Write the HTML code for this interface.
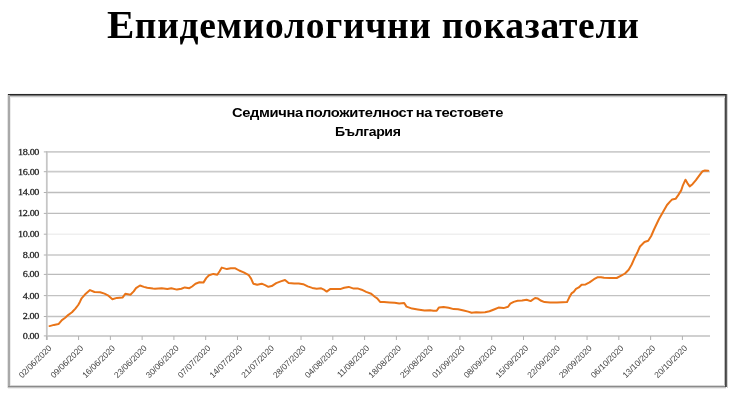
<!DOCTYPE html>
<html><head><meta charset="utf-8"><style>
html,body{margin:0;padding:0;background:#fff;}
body{width:740px;height:400px;overflow:hidden;position:relative;}
.title{position:absolute;left:107px;top:4.20px;font-family:"Liberation Serif","Noto Serif CJK SC",serif;font-weight:bold;font-size:37.5px;line-height:1;color:#000;white-space:nowrap;letter-spacing:0.7px;transform-origin:0 0;transform:scaleX(1.0000);}
.ct{position:absolute;font-family:"Liberation Sans","DejaVu Sans",sans-serif;font-weight:bold;color:#000;white-space:nowrap;line-height:1;transform-origin:0 0;letter-spacing:-0.35px;word-spacing:-1px;}
svg{position:absolute;left:0;top:0;}
</style></head><body>
<div class="title"><span style="font-size:41.0px;letter-spacing:0.5px">Е</span>пидемиологични показатели</div>
<div class="ct" style="top:106.0px;font-size:13.6px;left:232px;transform:scaleX(1.0828)">Седмич<span style="margin-left:0px">на</span> положителност на тестовете</div>
<div class="ct" style="top:124.6px;font-size:13.6px;left:335px;transform:scaleX(1.0340)">България</div>
<svg width="740" height="400" viewBox="0 0 740 400">
<g shape-rendering="crispEdges"><rect x="10" y="93" width="715" height="1" fill="#f4f4f4"/><rect x="10" y="95" width="715" height="1" fill="#777777"/><rect x="10" y="96" width="715" height="1" fill="#c8c8c8"/><rect x="10" y="97" width="715" height="1" fill="#f0f0f0"/><rect x="10" y="385" width="715" height="1" fill="#d8d8d8"/><rect x="8" y="387" width="718" height="1" fill="#c4c4c4"/><rect x="8" y="388" width="718" height="1" fill="#eeeeee"/><rect x="7" y="94" width="1" height="294" fill="#e4e4e4"/><rect x="10" y="98" width="1" height="287" fill="#ececec"/><rect x="724" y="98" width="1" height="287" fill="#bebebe"/><rect x="727" y="94" width="1" height="294" fill="#d2d2d2"/><rect x="8" y="94" width="2" height="293" fill="#a9a9a9"/><rect x="8" y="386" width="718" height="1" fill="#8a8a8a"/><rect x="725" y="94" width="1" height="293" fill="#464646"/><rect x="726" y="94" width="1" height="293" fill="#5e5e5e"/><rect x="8" y="94" width="718" height="1" fill="#262626"/></g><g><line x1="46.8" y1="316.50" x2="710" y2="316.50" stroke="#c2c2c2" stroke-width="1.4"/><line x1="46.8" y1="295.60" x2="710" y2="295.60" stroke="#c2c2c2" stroke-width="1.4"/><line x1="46.8" y1="274.40" x2="710" y2="274.40" stroke="#bbbbbb" stroke-width="1.4"/><line x1="46.8" y1="255.00" x2="710" y2="255.00" stroke="#c8c8c8" stroke-width="1.5"/><line x1="46.8" y1="234.20" x2="710" y2="234.20" stroke="#efefef" stroke-width="1.4"/><line x1="46.8" y1="213.40" x2="710" y2="213.40" stroke="#bdbdbd" stroke-width="1.4"/><line x1="46.8" y1="192.50" x2="710" y2="192.50" stroke="#bdbdbd" stroke-width="1.4"/><line x1="46.8" y1="171.70" x2="710" y2="171.70" stroke="#cbcbcb" stroke-width="1.7"/><line x1="46.8" y1="151.90" x2="710" y2="151.90" stroke="#cdcdcd" stroke-width="1.8"/></g>
<line stroke="#d0d0d0" stroke-width="2.0" x1="46.8" y1="335.9" x2="710" y2="335.9"/>
<line stroke="#c6c6c6" stroke-width="1.8" x1="46.8" y1="151.20000000000002" x2="46.8" y2="339.9"/>
<g stroke="#b0b0b0" stroke-width="1"><line x1="43.8" y1="335.90" x2="46.8" y2="335.90"/><line x1="43.8" y1="316.50" x2="46.8" y2="316.50"/><line x1="43.8" y1="295.60" x2="46.8" y2="295.60"/><line x1="43.8" y1="274.40" x2="46.8" y2="274.40"/><line x1="43.8" y1="255.00" x2="46.8" y2="255.00"/><line x1="43.8" y1="234.20" x2="46.8" y2="234.20"/><line x1="43.8" y1="213.40" x2="46.8" y2="213.40"/><line x1="43.8" y1="192.50" x2="46.8" y2="192.50"/><line x1="43.8" y1="171.70" x2="46.8" y2="171.70"/><line x1="43.8" y1="151.90" x2="46.8" y2="151.90"/><line x1="46.80" y1="336" x2="46.80" y2="340"/><line x1="78.58" y1="336" x2="78.58" y2="340"/><line x1="110.36" y1="336" x2="110.36" y2="340"/><line x1="142.14" y1="336" x2="142.14" y2="340"/><line x1="173.92" y1="336" x2="173.92" y2="340"/><line x1="205.70" y1="336" x2="205.70" y2="340"/><line x1="237.48" y1="336" x2="237.48" y2="340"/><line x1="269.26" y1="336" x2="269.26" y2="340"/><line x1="301.04" y1="336" x2="301.04" y2="340"/><line x1="332.82" y1="336" x2="332.82" y2="340"/><line x1="364.60" y1="336" x2="364.60" y2="340"/><line x1="396.38" y1="336" x2="396.38" y2="340"/><line x1="428.16" y1="336" x2="428.16" y2="340"/><line x1="459.94" y1="336" x2="459.94" y2="340"/><line x1="491.72" y1="336" x2="491.72" y2="340"/><line x1="523.50" y1="336" x2="523.50" y2="340"/><line x1="555.28" y1="336" x2="555.28" y2="340"/><line x1="587.06" y1="336" x2="587.06" y2="340"/><line x1="618.84" y1="336" x2="618.84" y2="340"/><line x1="650.62" y1="336" x2="650.62" y2="340"/><line x1="682.40" y1="336" x2="682.40" y2="340"/></g>
<g font-family="Liberation Serif, serif" font-size="8.7" font-weight="normal" letter-spacing="-0.3" fill="#1e1e1e" stroke="#1e1e1e" stroke-width="0.25" text-anchor="end" transform="translate(39.1,0) scale(1.17,1) translate(-39.1,0)"><text x="39.1" y="338.90">0.00</text><text x="39.1" y="319.50">2.00</text><text x="39.1" y="298.60">4.00</text><text x="39.1" y="277.40">6.00</text><text x="39.1" y="258.00">8.00</text><text x="39.1" y="237.20">10.00</text><text x="39.1" y="216.40">12.00</text><text x="39.1" y="195.50">14.00</text><text x="39.1" y="174.70">16.00</text><text x="39.1" y="154.90">18.00</text></g>
<g font-family="Liberation Sans, sans-serif" font-size="8.45" fill="#464646" text-anchor="end"><text transform="translate(52.10,348.70) rotate(-45)">02/06/2020</text><text transform="translate(83.88,348.70) rotate(-45)">09/06/2020</text><text transform="translate(115.66,348.70) rotate(-45)">16/06/2020</text><text transform="translate(147.44,348.70) rotate(-45)">23/06/2020</text><text transform="translate(179.22,348.70) rotate(-45)">30/06/2020</text><text transform="translate(211.00,348.70) rotate(-45)">07/07/2020</text><text transform="translate(242.78,348.70) rotate(-45)">14/07/2020</text><text transform="translate(274.56,348.70) rotate(-45)">21/07/2020</text><text transform="translate(306.34,348.70) rotate(-45)">28/07/2020</text><text transform="translate(338.12,348.70) rotate(-45)">04/08/2020</text><text transform="translate(369.90,348.70) rotate(-45)">11/08/2020</text><text transform="translate(401.68,348.70) rotate(-45)">18/08/2020</text><text transform="translate(433.46,348.70) rotate(-45)">25/08/2020</text><text transform="translate(465.24,348.70) rotate(-45)">01/09/2020</text><text transform="translate(497.02,348.70) rotate(-45)">08/09/2020</text><text transform="translate(528.80,348.70) rotate(-45)">15/09/2020</text><text transform="translate(560.58,348.70) rotate(-45)">22/09/2020</text><text transform="translate(592.36,348.70) rotate(-45)">29/09/2020</text><text transform="translate(624.14,348.70) rotate(-45)">06/10/2020</text><text transform="translate(655.92,348.70) rotate(-45)">13/10/2020</text><text transform="translate(687.70,348.70) rotate(-45)">20/10/2020</text></g>
<polyline fill="none" stroke="#e97418" stroke-width="2.0" stroke-linejoin="round" stroke-linecap="round" points="49.5,326.1 54.0,324.9 58.5,324.1 61.9,320.1 65.2,317.8 68.1,315.1 72.0,312.3 75.4,308.6 78.2,305.0 79.9,301.9 81.6,298.3 84.9,294.6 90.0,290.1 94.5,292.0 100.1,292.3 104.5,293.6 107.9,295.3 112.4,299.2 116.9,297.9 122.5,297.6 125.3,293.8 130.4,294.7 133.7,291.4 136.0,288.2 140.0,285.5 143.9,286.9 147.2,287.8 152.9,288.6 155.0,288.7 161.7,288.2 167.4,289.0 171.3,288.2 176.9,289.6 181.4,288.7 184.8,287.4 189.3,288.2 192.1,286.5 195.5,283.7 199.4,282.3 203.4,282.6 206.2,278.1 209.0,275.2 213.4,273.9 217.3,274.7 219.6,271.3 221.8,267.6 226.9,269.1 230.8,268.3 235.3,268.3 239.2,270.5 243.7,272.4 248.8,275.2 251.1,278.6 253.3,283.7 257.2,284.8 261.7,283.7 265.1,285.1 268.4,286.8 271.7,286.1 276.2,283.1 280.7,281.4 285.0,280.0 288.6,283.1 294.2,283.4 298.7,283.4 303.2,284.2 307.7,286.4 312.2,287.9 316.7,288.7 321.2,288.3 323.4,289.3 326.7,291.6 330.1,289.1 334.6,288.9 340.2,289.1 344.2,287.8 348.7,286.9 353.7,288.6 358.2,288.6 361.6,289.7 366.1,291.9 371.2,293.8 375.1,297.0 377.2,298.3 380.1,301.9 384.0,302.1 389.6,302.4 394.7,302.8 399.2,303.6 404.2,303.0 406.5,306.6 412.1,308.6 417.7,309.5 424.5,310.6 430.1,310.2 433.4,310.8 436.7,310.8 439.0,307.4 443.5,307.1 448.6,307.8 453.6,309.1 458.1,309.3 463.7,310.5 468.2,311.6 471.6,312.7 476.1,312.3 480.6,312.5 485.1,312.2 489.5,311.3 494.0,309.5 498.5,307.6 503.6,308.1 508.1,306.8 510.3,303.6 513.7,301.9 517.6,300.8 522.1,300.5 526.6,299.7 530.6,301.1 535.1,298.0 537.9,298.6 541.2,300.8 544.5,302.1 550.1,302.6 556.9,302.4 562.5,302.2 567.0,302.1 569.2,297.6 571.5,293.4 573.7,291.9 576.0,288.9 578.8,287.4 581.6,284.8 585.6,284.4 589.5,282.4 594.0,279.2 597.4,277.3 601.0,277.2 604.0,277.7 610.0,278.0 616.7,278.0 621.2,275.7 625.0,273.5 628.7,269.7 631.7,264.5 634.7,257.7 637.7,251.7 640.0,246.5 644.5,242.0 648.2,240.8 651.2,236.0 654.0,229.5 659.0,219.0 663.0,212.0 667.0,205.0 670.0,201.6 672.2,199.4 675.6,198.8 678.4,194.9 681.2,190.4 682.9,185.3 685.5,179.7 687.4,183.1 689.7,186.4 692.5,184.2 695.9,180.2 699.2,175.7 702.6,171.2 704.9,170.5 708.2,170.7"/>
</svg>
</body></html>
